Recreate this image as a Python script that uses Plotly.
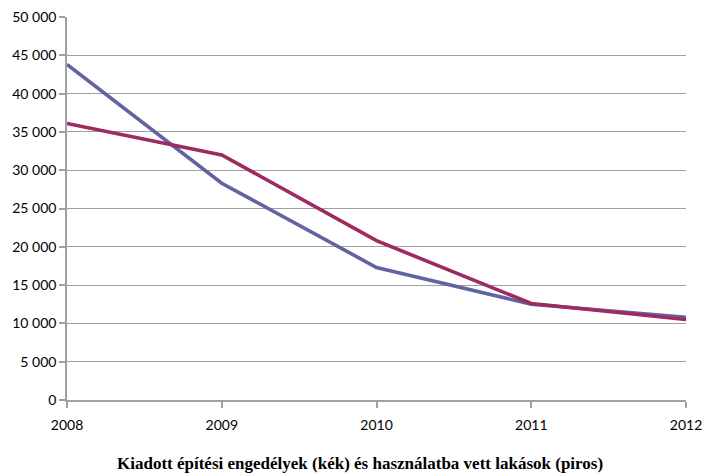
import plotly.graph_objects as go

years = ["2008", "2009", "2010", "2011", "2012"]
engedelyek = [43800, 28300, 17300, 12500, 10800]   # blue
lakasok = [36100, 32000, 20800, 12600, 10500]      # red
y_ticks = [0, 5000, 10000, 15000, 20000, 25000, 30000, 35000, 40000, 45000, 50000]
title_text = "Kiadott építési engedélyek (kék) és használatba vett lakások (piros)"

fig = go.Figure()
fig.add_trace(go.Scatter(x=years, y=engedelyek, mode="lines",
                         line=dict(color="#6264a2", width=3.6), hoverinfo="y"))
fig.add_trace(go.Scatter(x=years, y=lakasok, mode="lines",
                         line=dict(color="#9e2a60", width=3.6), hoverinfo="y"))

tick_font = dict(family="Lato, Open Sans, sans-serif", size=14, color="#000000")

fig.update_layout(
    width=703, height=473,
    margin=dict(l=67, r=17, t=17, b=73),
    paper_bgcolor="white", plot_bgcolor="white",
    showlegend=False,
    separators=". ",
    xaxis=dict(
        type="category", range=[0, 4], showgrid=False, automargin=False,
        showline=True, linecolor="#a0a0a0", linewidth=1.5,
        ticks="outside", ticklen=6, tickcolor="#a0a0a0", tickwidth=1.5,
        ticklabelstandoff=5,
        tickfont=tick_font, zeroline=False,
    ),
    yaxis=dict(
        range=[0, 50000], tickvals=y_ticks, tickformat=",d", automargin=False,
        showgrid=True, gridcolor="#a0a0a0", gridwidth=1.2,
        showline=True, linecolor="#a0a0a0", linewidth=1.5,
        ticks="outside", ticklen=6, tickcolor="#a0a0a0", tickwidth=1.5,
        tickfont=tick_font, zeroline=False,
    ),
    annotations=[dict(
        text="<b>" + title_text + "</b>",
        xref="paper", yref="paper", x=(360 - 67) / (686 - 67), y=-0.137,
        xanchor="center", yanchor="top", showarrow=False,
        font=dict(family="Liberation Serif, Times New Roman, serif", size=17, color="#000000"),
    )],
)

# remove the default page margin so the figure sits at the window's top-left corner
fig.write_html("out.html",
               config={"displayModeBar": False},
               post_script="document.body.style.margin='0';document.body.style.overflow='hidden';")
